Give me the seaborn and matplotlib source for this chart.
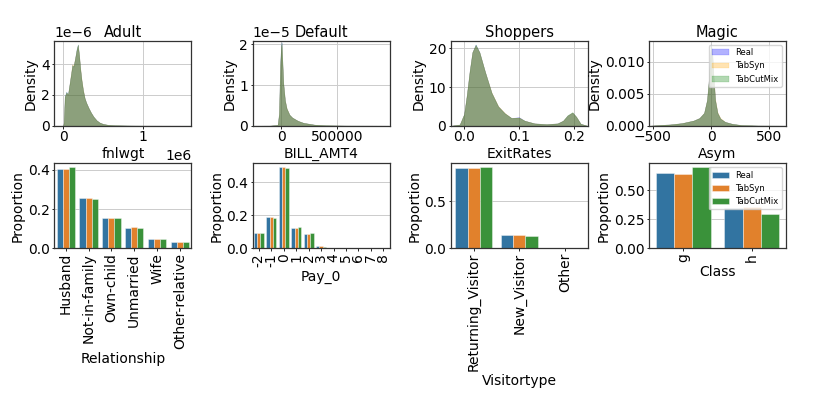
import matplotlib
matplotlib.use("Agg")
import matplotlib.pyplot as plt
import numpy as np
import pandas as pd
import seaborn as sns

# ---------------- data ----------------
models = ["Real", "TabSyn", "TabCutMix"]
density_colors = ["blue", "orange", "green"]

titles = ["Adult", "Default", "Shoppers", "Magic"]
num_features = ["fnlwgt", "BILL_AMT4", "ExitRates", "Asym"]
cat_features = ["Relationship", "Pay_0", "Visitortype", "Class"]

# Adult - fnlwgt density
adult_x = [-100000, 0, 8000, 20000, 40000, 60000, 80000, 100000, 115000, 130000, 150000,
           170000, 185000, 200000, 215000, 230000, 250000, 270000, 290000, 320000,
           350000, 380000, 420000, 460000, 500000, 560000, 650000, 800000, 1000000,
           1300000, 1600000]
adult_real = [0, 0, 0.2, 1.9, 2.2, 2.0, 2.7, 3.4, 3.95, 3.85, 4.4, 5.0, 5.28, 4.6, 3.7,
              3.0, 2.3, 1.8, 1.5, 1.15, 0.85, 0.6, 0.35, 0.2, 0.12, 0.06, 0.03, 0.015,
              0.005, 0.002, 0]
adult_tabsyn = [0, 0, 0.2, 1.85, 2.15, 2.0, 2.7, 3.45, 4.0, 3.9, 4.4, 4.95, 5.25, 4.6,
                3.75, 3.05, 2.35, 1.8, 1.5, 1.15, 0.85, 0.6, 0.35, 0.2, 0.12, 0.06,
                0.03, 0.015, 0.005, 0.002, 0]
adult_tabcutmix = [0, 0, 0.2, 1.9, 2.2, 2.05, 2.7, 3.4, 3.95, 3.85, 4.4, 5.0, 5.3, 4.6,
                   3.7, 3.0, 2.3, 1.8, 1.5, 1.15, 0.85, 0.6, 0.35, 0.2, 0.12, 0.06,
                   0.03, 0.015, 0.005, 0.002, 0]

# Default - BILL_AMT4 density
default_x = [-250000, -100000, -30000, -18000, -8000, 0, 5000, 10000, 20000, 35000,
             50000, 75000, 100000, 150000, 200000, 300000, 400000, 600000, 960000]
default_real = [0, 0.002, 0.02, 0.3, 1.5, 1.95, 2.05, 1.7, 1.05, 0.62, 0.42, 0.27, 0.2,
                0.12, 0.07, 0.025, 0.01, 0.003, 0]
default_tabsyn = [0, 0.002, 0.02, 0.3, 1.45, 1.9, 2.0, 1.7, 1.05, 0.63, 0.43, 0.27, 0.2,
                  0.12, 0.07, 0.025, 0.01, 0.003, 0]
default_tabcutmix = [0, 0.002, 0.02, 0.3, 1.5, 1.95, 2.05, 1.72, 1.05, 0.62, 0.42, 0.27,
                     0.2, 0.12, 0.07, 0.025, 0.01, 0.003, 0]

# Shoppers - ExitRates density
shop_x = [-0.024, -0.008, 0.0, 0.005, 0.01, 0.015, 0.021, 0.028, 0.038, 0.05, 0.062,
          0.074, 0.086, 0.1, 0.11, 0.128, 0.15, 0.17, 0.18, 0.188, 0.197, 0.204, 0.212,
          0.224]
shop_real = [0, 0.3, 3, 8, 14, 19, 21, 19, 14, 8.5, 5, 3.2, 2.0, 2.2, 1.3, 0.6, 0.4,
             0.6, 1.3, 2.6, 3.4, 2.3, 0.5, 0]
shop_tabsyn = [0, 0.3, 3, 8, 14, 19, 20.8, 19, 14, 8.6, 5.1, 3.3, 2.0, 2.1, 1.3, 0.6,
               0.4, 0.6, 1.3, 2.6, 3.4, 2.3, 0.5, 0]
shop_tabcutmix = [0, 0.3, 3, 8, 14, 19, 21, 19, 14, 8.5, 5, 3.2, 2.0, 2.1, 1.3, 0.6, 0.4,
                  0.6, 1.3, 2.7, 3.5, 2.3, 0.5, 0]

# Magic - Asym density
magic_x = [-530, -450, -350, -250, -150, -100, -60, -35, -20, -10, 0, 10, 20, 35, 55,
           80, 120, 180, 260, 400, 640]
magic_real = [0, 0.0001, 0.0002, 0.0004, 0.0008, 0.0012, 0.002, 0.004, 0.007, 0.0105,
              0.0127, 0.0115, 0.008, 0.004, 0.002, 0.0011, 0.0006, 0.0003, 0.0001,
              0.00003, 0]
magic_tabsyn = [0, 0.0001, 0.0002, 0.0004, 0.0008, 0.0012, 0.002, 0.004, 0.007, 0.0103,
                0.0124, 0.0114, 0.0082, 0.0042, 0.0021, 0.0012, 0.0006, 0.0003, 0.0001,
                0.00003, 0]
magic_tabcutmix = [0, 0.0001, 0.0002, 0.0004, 0.0008, 0.0012, 0.002, 0.004, 0.007,
                   0.0105, 0.0126, 0.0115, 0.008, 0.004, 0.002, 0.0011, 0.0006, 0.0003,
                   0.0001, 0.00003, 0]

# Categorical proportions
rel_cats = ["Husband", "Not-in-family", "Own-child", "Unmarried", "Wife", "Other-relative"]
rel_real = [0.405, 0.257, 0.157, 0.106, 0.048, 0.030]
rel_tabsyn = [0.403, 0.255, 0.157, 0.107, 0.047, 0.033]
rel_tabcutmix = [0.413, 0.250, 0.153, 0.105, 0.047, 0.032]

pay_cats = ["-2", "-1", "0", "1", "2", "3", "4", "5", "6", "7", "8"]
pay_real = [0.092, 0.190, 0.491, 0.123, 0.089, 0.011, 0.0025, 0.0009, 0.0004, 0.0003, 0.0002]
pay_tabsyn = [0.092, 0.190, 0.491, 0.123, 0.089, 0.011, 0.002, 0.0008, 0.0003, 0.0003, 0.0002]
pay_tabcutmix = [0.092, 0.185, 0.487, 0.127, 0.092, 0.008, 0.002, 0.0007, 0.0003, 0.0002, 0.0002]

visit_cats = ["Returning_Visitor", "New_Visitor", "Other"]
visit_real = [0.856, 0.137, 0.007]
visit_tabsyn = [0.855, 0.138, 0.006]
visit_tabcutmix = [0.862, 0.132, 0.006]

class_cats = ["g", "h"]
class_real = [0.648, 0.352]
class_tabsyn = [0.645, 0.355]
class_tabcutmix = [0.700, 0.300]

# ---------------- style ----------------
plt.rcParams.update({
    "font.size": 10,
    "axes.edgecolor": "#333333",
    "axes.linewidth": 0.9,
    "axes.grid": True,
    "grid.color": "#cccccc",
    "grid.linewidth": 0.7,
    "axes.axisbelow": True,
    "legend.fontsize": 6,
    "xtick.major.size": 1.8,
    "ytick.major.size": 1.8,
    "xtick.major.width": 0.6,
    "ytick.major.width": 0.6,
    "xtick.major.pad": 1.6,
    "ytick.major.pad": 1.6,
    "axes.labelpad": 2.0,
    "axes.titlepad": 2.5,
})
plt.rcParams["font.family"] = ["DejaVu Sans"]

fig, axes = plt.subplots(2, 4, figsize=(8.3, 4.15), dpi=100)
fig.subplots_adjust(left=0.0655, right=0.947, top=0.902, bottom=0.4017,
                    wspace=0.448, hspace=0.4425)

densities = [
    (adult_x, [adult_real, adult_tabsyn, adult_tabcutmix], 1e-6),
    (default_x, [default_real, default_tabsyn, default_tabcutmix], 1e-5),
    (shop_x, [shop_real, shop_tabsyn, shop_tabcutmix], 1.0),
    (magic_x, [magic_real, magic_tabsyn, magic_tabcutmix], 1.0),
]
xlims = [(-110000, 1610000), (-253000, 967000), (-0.024, 0.225), (-531, 643)]
xticks = [[0, 1000000], [0, 500000], [0, 0.1, 0.2], [-500, 0, 500]]
yticks = [[0, 2e-6, 4e-6], [0, 1e-5, 2e-5], [0, 10, 20], [0, 0.005, 0.010]]
ytops = [5.54e-6, 2.09e-5, 22.0, 0.01328]

for i, ax in enumerate(axes[0]):
    xs, series, scale = densities[i]
    for m, c, ys in zip(models, density_colors, series):
        yv = np.asarray(ys, dtype=float) * scale
        ax.fill_between(xs, yv, color=c, alpha=0.3, linewidth=0.3, label=m)
    ax.set_xlim(*xlims[i])
    ax.set_ylim(0, ytops[i])
    ax.set_xticks(xticks[i])
    ax.set_yticks(yticks[i])
    ax.set_title(titles[i], fontsize=10.5)
    ax.set_xlabel(num_features[i])
    ax.set_ylabel("Density")
    if i == 3:
        ax.legend(loc="upper right")

bars = [
    (rel_cats, [rel_real, rel_tabsyn, rel_tabcutmix], [0, 0.2, 0.4]),
    (pay_cats, [pay_real, pay_tabsyn, pay_tabcutmix], [0, 0.2, 0.4]),
    (visit_cats, [visit_real, visit_tabsyn, visit_tabcutmix], [0, 0.5]),
    (class_cats, [class_real, class_tabsyn, class_tabcutmix], [0, 0.25, 0.5]),
]

for i, ax in enumerate(axes[1]):
    cats, series, yt = bars[i]
    rows = []
    for m, vals in zip(models, series):
        for c, v in zip(cats, vals):
            rows.append({"category": c, "Proportion": v, "model": m})
    df = pd.DataFrame(rows)
    sns.barplot(data=df, x="category", y="Proportion", hue="model", order=cats,
                hue_order=models, ax=ax, legend=(i == 3),
                edgecolor=(1, 1, 1, 0.45), linewidth=0.6)
    ax.set_xlabel(cat_features[i])
    ax.set_ylabel("Proportion")
    ax.set_yticks(yt)
    if i == 3:
        ax.set_yticklabels(["0.00", "0.25", "0.50"])
    ax.tick_params(axis="x", rotation=90)
    if i == 3:
        ax.legend(loc="upper right", title=None)

fig.savefig("out.png", dpi=100)
